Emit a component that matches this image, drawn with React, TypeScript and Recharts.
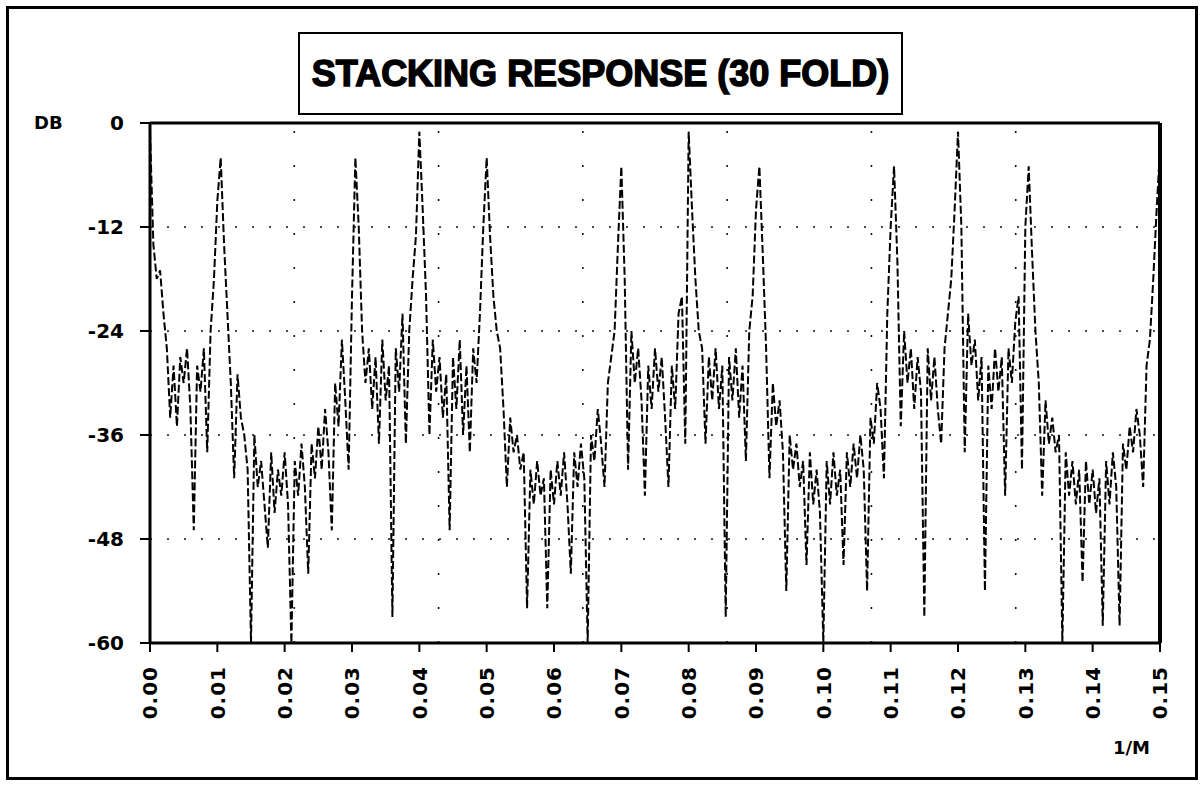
import React from "react";
import {
  LineChart,
  Line,
  XAxis,
  YAxis,
  CartesianGrid,
  ReferenceLine,
} from "recharts";

// stacking response, every 0.0005 (1/M) from 0.00 to 0.15
const FREQ_STEP = 0.0005;
const responseDb = [
  // 0.000 - 0.0095
  -1, -14, -18, -17, -22, -26, -34, -28, -35, -27, -30, -26, -33, -47, -28, -31, -26, -38, -24, -18,
  // 0.010 - 0.0195
  -9, -4, -14, -22, -30, -41, -29, -34, -36, -40, -60, -36, -42, -39, -44, -49, -38, -45, -40, -43,
  // 0.020 - 0.0295
  -38, -44, -60, -39, -43, -37, -42, -52, -37, -41, -35, -40, -33, -38, -47, -30, -35, -25, -32, -40,
  // 0.030 - 0.0395
  -20, -4, -12, -24, -30, -26, -33, -27, -37, -25, -32, -28, -57, -26, -31, -22, -37, -24, -18, -13,
  // 0.040 - 0.0495
  -1, -10, -20, -36, -25, -31, -27, -34, -29, -47, -27, -33, -25, -36, -28, -38, -26, -30, -22, -12,
  // 0.050 - 0.0595
  -4, -13, -20, -24, -26, -33, -42, -34, -38, -36, -40, -38, -56, -40, -44, -39, -43, -41, -56, -40,
  // 0.060 - 0.0695
  -44, -39, -43, -38, -44, -52, -38, -42, -37, -41, -60, -36, -39, -33, -37, -42, -30, -27, -24, -14,
  // 0.070 - 0.0795
  -5, -18, -40, -24, -30, -26, -32, -43, -28, -33, -26, -31, -27, -34, -42, -28, -33, -22, -20, -37,
  // 0.080 - 0.0895
  -1, -10, -18, -24, -26, -37, -27, -32, -26, -33, -28, -57, -27, -32, -26, -34, -28, -39, -24, -20,
  // 0.090 - 0.0995
  -10, -5, -15, -26, -41, -30, -35, -32, -38, -54, -36, -40, -37, -42, -39, -51, -38, -44, -40, -45,
  // 0.100 - 0.1095
  -60, -39, -44, -38, -43, -40, -51, -38, -42, -37, -41, -36, -40, -54, -34, -37, -30, -33, -41, -22,
  // 0.110 - 0.1195
  -12, -5, -16, -35, -24, -30, -26, -33, -27, -31, -57, -26, -32, -27, -33, -37, -26, -22, -18, -10,
  // 0.120 - 0.1295
  -1, -12, -38, -22, -28, -25, -32, -27, -54, -28, -33, -26, -31, -27, -43, -26, -30, -23, -20, -40,
  // 0.130 - 0.1395
  -12, -5, -15, -24, -30, -43, -32, -37, -34, -38, -36, -60, -38, -43, -39, -44, -40, -53, -39, -44,
  // 0.140 - 0.150
  -40, -45, -41, -58, -39, -44, -38, -42, -58, -37, -40, -35, -38, -33, -36, -42, -28, -25, -18, -10,
  -3,
];

const xTicks = [
  0, 0.01, 0.02, 0.03, 0.04, 0.05, 0.06, 0.07, 0.08, 0.09, 0.1, 0.11, 0.12,
  0.13, 0.14, 0.15,
];
const yTicks = [0, -12, -24, -36, -48, -60];

const X_MAX = 0.15;
const GRID_DIVISIONS = 7; // the plotter drew its vertical dotted lines in sevenths

const data = responseDb.map((db, i) => ({
  f: Number((i * FREQ_STEP).toFixed(4)),
  db,
}));

const verticalGrid = Array.from(
  { length: GRID_DIVISIONS - 1 },
  (_, k) => ((k + 1) * X_MAX) / GRID_DIVISIONS
);

const FONT = "'DejaVu Sans', 'Liberation Sans', sans-serif";

function XTick(props: any) {
  const { x, y, payload } = props;
  return (
    <g transform={`translate(${x},${y})`}>
      <text
        transform="rotate(-90)"
        textAnchor="end"
        dy="0.36em"
        fontFamily={FONT}
        fontWeight="bold"
        fontSize={20}
        letterSpacing={1}
        fill="#000"
      >
        {Number(payload.value).toFixed(2)}
      </text>
    </g>
  );
}

export default function App() {
  return (
    <div
      style={{
        position: "absolute",
        left: 0,
        top: 0,
        width: 1204,
        height: 789,
        background: "#fff",
        fontFamily: FONT,
      }}
    >
      <LineChart
        width={1204}
        height={789}
        data={data}
        margin={{ top: 123, right: 44, bottom: 86, left: 90 }}
      >
        <CartesianGrid
          horizontal={true}
          vertical={false}
          stroke="#111"
          strokeWidth={1.6}
          strokeDasharray="2 15"
        />
        {verticalGrid.map((v) => (
          <ReferenceLine
            key={v}
            x={v}
            stroke="#111"
            strokeWidth={1.6}
            strokeDasharray="2 32"
          />
        ))}
        <XAxis
          dataKey="f"
          type="number"
          domain={[0, X_MAX]}
          ticks={xTicks}
          interval={0}
          height={60}
          tickSize={9}
          tickMargin={14}
          tick={<XTick />}
          axisLine={{ stroke: "#000", strokeWidth: 3 }}
          tickLine={{ stroke: "#000", strokeWidth: 2 }}
        />
        <YAxis
          type="number"
          domain={[-60, 0]}
          ticks={yTicks}
          interval={0}
          width={60}
          tickSize={10}
          tickMargin={16}
          tick={{
            fill: "#000",
            fontSize: 20,
            fontWeight: "bold",
            fontFamily: FONT,
          }}
          axisLine={{ stroke: "#000", strokeWidth: 3 }}
          tickLine={{ stroke: "#000", strokeWidth: 2 }}
        />
        <ReferenceLine y={0} stroke="#000" strokeWidth={3} />
        <ReferenceLine x={X_MAX} stroke="#000" strokeWidth={4} />
        <Line
          type="linear"
          dataKey="db"
          stroke="#000"
          strokeWidth={2}
          strokeDasharray="8 3"
          dot={false}
          isAnimationActive={false}
        />
      </LineChart>

      {/* outer frame */}
      <div
        style={{
          position: "absolute",
          left: 6,
          top: 6,
          width: 1192,
          height: 774,
          border: "3px solid #000",
          boxSizing: "border-box",
          pointerEvents: "none",
        }}
      />
      {/* title box */}
      <div
        style={{
          position: "absolute",
          left: 298,
          top: 32,
          width: 605,
          height: 83,
          border: "2px solid #000",
          boxSizing: "border-box",
          display: "flex",
          alignItems: "center",
          justifyContent: "center",
          fontFamily: "'Liberation Sans', Arial, sans-serif",
          fontWeight: 900,
          fontSize: 36,
          WebkitTextStroke: "1.5px #000",
          color: "#000",
          whiteSpace: "nowrap",
        }}
      >
        STACKING RESPONSE (30 FOLD)
      </div>
      <div
        style={{
          position: "absolute",
          left: 34,
          top: 112,
          fontWeight: "bold",
          fontSize: 18,
          color: "#000",
        }}
      >
        DB
      </div>
      <div
        style={{
          position: "absolute",
          left: 1113,
          top: 737,
          fontWeight: "bold",
          fontSize: 18,
          color: "#000",
        }}
      >
        1/M
      </div>
    </div>
  );
}
